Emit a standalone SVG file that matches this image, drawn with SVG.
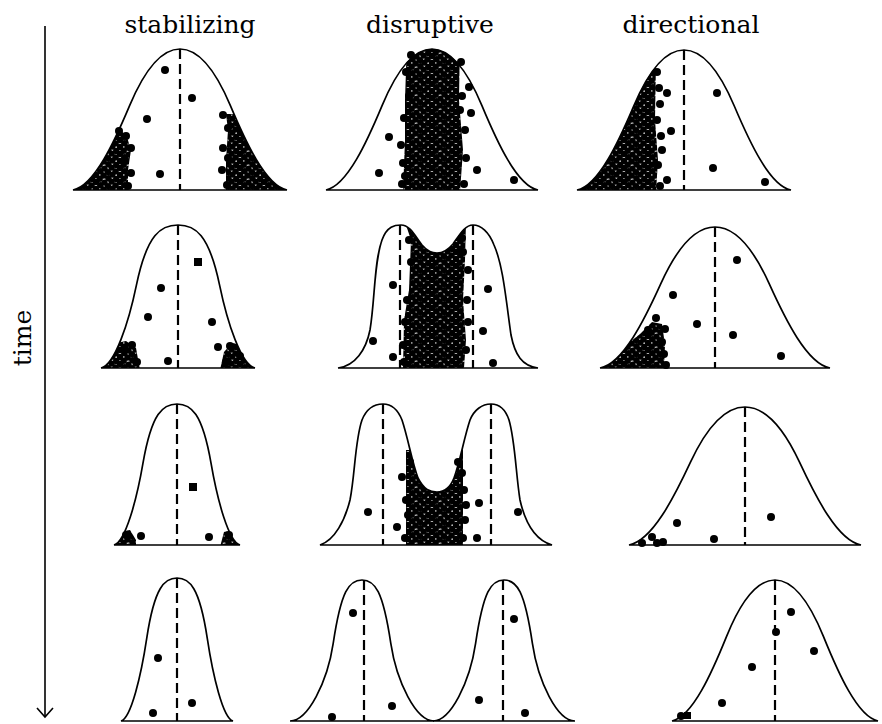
<svg xmlns="http://www.w3.org/2000/svg" xmlns:xlink="http://www.w3.org/1999/xlink" width="882" height="724" viewBox="0 0 882 724">
<style>
.curve{fill:none;stroke:#000;stroke-width:1.7}
.dash{stroke:#000;stroke-width:2.2;stroke-dasharray:10 5;fill:none}
.dot{fill:#000}
.cl{fill:url(#dots)}
text{font-family:"DejaVu Serif","Liberation Serif",serif;font-size:25px;fill:#000}
</style>
<defs>
<pattern id="dots" width="24" height="14" patternUnits="userSpaceOnUse">
<g fill="#000">
<circle cx="0" cy="0" r="3.2"/><circle cx="8.5" cy="0.6" r="3.2"/><circle cx="15.6" cy="-0.4" r="3.2"/><circle cx="24" cy="0" r="3.2"/>
<circle cx="4.3" cy="3.2" r="3.2"/><circle cx="12" cy="4.1" r="3.2"/><circle cx="19.6" cy="3.4" r="3.2"/>
<circle cx="0" cy="7" r="3.2"/><circle cx="7.6" cy="7.5" r="3.2"/><circle cx="16.4" cy="6.6" r="3.2"/><circle cx="24" cy="7" r="3.2"/>
<circle cx="3.7" cy="10.8" r="3.2"/><circle cx="12.4" cy="10.2" r="3.2"/><circle cx="20.2" cy="11" r="3.2"/>
<circle cx="0" cy="14" r="3.2"/><circle cx="8.5" cy="14.6" r="3.2"/><circle cx="15.6" cy="13.6" r="3.2"/><circle cx="24" cy="14" r="3.2"/>
</g>
</pattern>
<path id="bell" vector-effect="non-scaling-stroke" d="M -100,0 C -80,-3 -61,-34.8 -47,-60 C -35,-81.6 -20,-100 0,-100 C 20,-100 35,-81.6 47,-60 C 61,-34.8 80,-3 100,0 Z"/>
<path id="bullet" vector-effect="non-scaling-stroke" d="M -100,0 C -82,-2 -64,-32 -54,-58 C -40,-94 -22,-100 0,-100 C 22,-100 40,-94 54,-58 C 64,-32 82,-2 100,0 Z"/>
<path id="peak" vector-effect="non-scaling-stroke" d="M -100,0 C -75,0 -48,-27.8 -40,-55 C -29,-92.4 -18,-100 0,-100 C 18,-100 29,-92.4 40,-55 C 48,-27.8 75,0 100,0 Z"/>
<path id="bimod2" d="M 338,368 C 355,366 366,350 370,330 C 375,300 374,262 382,240 C 387,226 395,225 401,225 C 410,225 415,236 422,245 C 428,252 432,253 437,253 C 443,253 448,250 453,244 C 460,234 465,225 473,225 C 481,225 489,232 494,245 C 503,265 506,300 511,335 C 515,355 522,366 538,368 Z"/>
<path id="bimod3" d="M 320,545 C 335,540 345,520 350,500 C 355,475 355,440 362,420 C 368,405 378,404 383,404 C 392,404 398,410 402,420 C 408,438 412,462 418,478 C 424,490 430,492 437,492 C 444,492 450,488 454,478 C 460,462 464,438 470,420 C 474,410 482,404 491,404 C 498,404 505,408 509,420 C 515,440 516,475 520,500 C 525,522 535,540 552,545 Z"/>
<clipPath id="cA1"><use xlink:href="#bell" transform="translate(180,190) scale(1.07,1.41)"/></clipPath>
<clipPath id="cB1"><use xlink:href="#bell" transform="translate(432,190) scale(1.06,1.41)"/></clipPath>
<clipPath id="cC1"><use xlink:href="#bell" transform="translate(684,190) scale(1.07,1.40)"/></clipPath>
<clipPath id="cA2"><use xlink:href="#bullet" transform="translate(178,368) scale(0.77,1.43)"/></clipPath>
<clipPath id="cB2"><use xlink:href="#bimod2"/></clipPath>
<clipPath id="cC2"><use xlink:href="#bell" transform="translate(715,368) scale(1.15,1.41)"/></clipPath>
<clipPath id="cA3"><use xlink:href="#bullet" transform="translate(177,545) scale(0.63,1.41)"/></clipPath>
<clipPath id="cB3"><use xlink:href="#bimod3"/></clipPath>
</defs>
<rect width="882" height="724" fill="#fff"/>

<g id="headers">
<text x="190" y="33" text-anchor="middle">stabilizing</text>
<text x="430" y="33" text-anchor="middle">disruptive</text>
<text x="691" y="33" text-anchor="middle">directional</text>
<text transform="translate(31,338) rotate(-90)" text-anchor="middle">time</text>
</g>

<g id="connectors">
<line x1="45" y1="26" x2="45" y2="717" stroke="#000" stroke-width="1.6"/>
<polyline points="37,708 45,717 53,708" fill="none" stroke="#000" stroke-width="1.6"/>
</g>

<g id="stabilizing-1">
<g clip-path="url(#cA1)">
<path class="cl" d="M 60,192 L 60,130 L 118,130 L 126,134 L 131,150 L 128,170 L 128,192 Z"/>
<path class="cl" d="M 226,192 L 226,160 L 228,130 L 226,114 L 300,114 L 300,192 Z"/>
<g class="dot">
<circle cx="100" cy="150" r="4"/><circle cx="92" cy="165" r="4"/><circle cx="83" cy="178" r="4"/><circle cx="112" cy="142" r="4"/>
<circle cx="240" cy="128" r="4"/><circle cx="250" cy="142" r="4"/><circle cx="262" cy="160" r="4"/><circle cx="272" cy="176" r="4"/>
</g>
</g>
<g class="dot">
<circle cx="126" cy="136" r="4"/><circle cx="131" cy="148" r="4"/><circle cx="131" cy="173" r="4"/><circle cx="125" cy="160" r="4"/><circle cx="128" cy="186" r="4"/><circle cx="119" cy="131" r="4"/>
<circle cx="223" cy="115" r="4"/><circle cx="223" cy="148" r="4"/><circle cx="222" cy="170" r="4"/><circle cx="228" cy="128" r="4"/><circle cx="227" cy="185" r="4"/><circle cx="228" cy="158" r="4"/>
<circle cx="165" cy="70" r="4"/><circle cx="192" cy="98" r="4"/><circle cx="147" cy="119" r="4"/><circle cx="160" cy="174" r="4"/>
</g>
<line class="dash" x1="180" y1="49" x2="180" y2="190"/>
<use class="curve" xlink:href="#bell" transform="translate(180,190) scale(1.07,1.41)"/>
</g>

<g id="disruptive-1">
<g clip-path="url(#cB1)">
<path class="cl" d="M 407,40 L 460,40 L 459,100 L 463,150 L 460,192 L 403,192 L 405,140 L 405,100 Z"/>
</g>
<g class="dot">
<circle cx="409" cy="96" r="4"/><circle cx="403" cy="163" r="4"/><circle cx="465" cy="130" r="4"/><circle cx="461" cy="62" r="4"/><circle cx="406" cy="72" r="4"/><circle cx="402" cy="184" r="4"/><circle cx="464" cy="184" r="4"/>
<circle cx="404" cy="118" r="4"/><circle cx="401" cy="145" r="4"/><circle cx="462" cy="96" r="4"/><circle cx="466" cy="158" r="4"/><circle cx="411" cy="55" r="4"/><circle cx="460" cy="110" r="4"/><circle cx="405" cy="176" r="4"/>
<circle cx="389" cy="137" r="4"/><circle cx="379" cy="173" r="4"/><circle cx="469" cy="87" r="4"/><circle cx="471" cy="113" r="4"/><circle cx="477" cy="170" r="4"/><circle cx="514" cy="180" r="4"/>
</g>
<use class="curve" xlink:href="#bell" transform="translate(432,190) scale(1.06,1.41)"/>
</g>

<g id="directional-1">
<g clip-path="url(#cC1)">
<path class="cl" d="M 560,192 L 560,60 L 656,60 L 655,120 L 658,160 L 656,192 Z"/>
</g>
<g class="dot">
<circle cx="657" cy="72" r="4"/><circle cx="659" cy="88" r="4"/><circle cx="660" cy="104" r="4"/><circle cx="657" cy="120" r="4"/><circle cx="661" cy="136" r="4"/><circle cx="662" cy="150" r="4"/><circle cx="658" cy="165" r="4"/><circle cx="660" cy="186" r="4"/>
<circle cx="667" cy="93" r="4"/><circle cx="671" cy="131" r="4"/><circle cx="667" cy="180" r="4"/><circle cx="717" cy="93" r="4"/><circle cx="713" cy="168" r="4"/><circle cx="765" cy="182" r="4"/>
</g>
<line class="dash" x1="684" y1="50" x2="684" y2="190"/>
<use class="curve" xlink:href="#bell" transform="translate(684,190) scale(1.07,1.40)"/>
</g>

<g id="stabilizing-2">
<g clip-path="url(#cA2)">
<path class="cl" d="M 95,370 L 98,352 L 112,344 L 126,341 L 136,348 L 140,370 Z"/>
<path class="cl" d="M 220,370 L 224,352 L 232,343 L 245,345 L 262,370 Z"/>
</g>
<g class="dot">
<rect x="194" y="258" width="8" height="8"/>
<circle cx="161" cy="288" r="4"/><circle cx="148" cy="317" r="4"/><circle cx="212" cy="322" r="4"/><circle cx="168" cy="361" r="4"/><circle cx="218" cy="347" r="4"/><circle cx="132" cy="345" r="4"/>
<circle cx="125" cy="349" r="4"/><circle cx="137" cy="362" r="4"/><circle cx="230" cy="346" r="4"/><circle cx="226" cy="362" r="4"/><circle cx="240" cy="356" r="4"/>
</g>
<line class="dash" x1="178" y1="225" x2="178" y2="368"/>
<use class="curve" xlink:href="#bullet" transform="translate(178,368) scale(0.77,1.43)"/>
</g>

<g id="disruptive-2">
<g clip-path="url(#cB2)">
<path class="cl" d="M 405,222 L 466,222 L 465,260 L 463,300 L 466,340 L 464,368 L 403,368 L 404,320 L 409,290 L 411,240 Z"/>
</g>
<g class="dot">
<circle cx="393" cy="285" r="4"/><circle cx="373" cy="341" r="4"/><circle cx="393" cy="357" r="4"/><circle cx="488" cy="289" r="4"/><circle cx="483" cy="331" r="4"/><circle cx="493" cy="363" r="4"/><circle cx="462" cy="238" r="4"/>
<circle cx="409" cy="240" r="4"/><circle cx="407" cy="300" r="4"/><circle cx="467" cy="300" r="4"/><circle cx="403" cy="345" r="4"/><circle cx="411" cy="262" r="4"/><circle cx="405" cy="322" r="4"/>
<circle cx="468" cy="270" r="4"/><circle cx="468" cy="322" r="4"/><circle cx="466" cy="350" r="4"/><circle cx="404" cy="362" r="4"/><circle cx="463" cy="252" r="4"/>
</g>
<line class="dash" x1="400" y1="225" x2="400" y2="368"/>
<line class="dash" x1="473" y1="225" x2="473" y2="368"/>
<use class="curve" xlink:href="#bimod2"/>
</g>

<g id="directional-2">
<g clip-path="url(#cC2)">
<path class="cl" d="M 595,370 L 640,334 L 652,322 L 662,324 L 665,345 L 664,370 Z"/>
</g>
<g class="dot">
<circle cx="737" cy="260" r="4"/><circle cx="673" cy="295" r="4"/><circle cx="697" cy="324" r="4"/><circle cx="733" cy="335" r="4"/><circle cx="781" cy="356" r="4"/><circle cx="665" cy="329" r="4"/><circle cx="666" cy="365" r="4"/><circle cx="656" cy="318" r="4"/>
<circle cx="662" cy="342" r="4"/><circle cx="664" cy="354" r="4"/><circle cx="648" cy="330" r="4"/>
</g>
<line class="dash" x1="715" y1="227" x2="715" y2="368"/>
<use class="curve" xlink:href="#bell" transform="translate(715,368) scale(1.15,1.41)"/>
</g>

<g id="stabilizing-3">
<g clip-path="url(#cA3)">
<path class="cl" d="M 110,547 L 118,532 L 130,530 L 136,540 L 136,547 Z"/>
<path class="cl" d="M 220,547 L 224,532 L 232,530 L 245,547 Z"/>
</g>
<g class="dot">
<circle cx="141" cy="536" r="4"/><rect x="189" y="483" width="8" height="8"/><circle cx="209" cy="537" r="4"/>
<circle cx="126" cy="535" r="4"/><circle cx="229" cy="535" r="4"/>
</g>
<line class="dash" x1="177" y1="404" x2="177" y2="545"/>
<use class="curve" xlink:href="#bullet" transform="translate(177,545) scale(0.63,1.41)"/>
</g>

<g id="disruptive-3">
<g clip-path="url(#cB3)">
<path class="cl" d="M 406,450 L 463,450 L 463,547 L 406,547 Z"/>
</g>
<g class="dot">
<circle cx="402" cy="477" r="4"/><circle cx="397" cy="527" r="4"/><circle cx="462" cy="473" r="4"/><circle cx="406" cy="500" r="4"/><circle cx="465" cy="520" r="4"/><circle cx="410" cy="462" r="4"/>
<circle cx="408" cy="515" r="4"/><circle cx="405" cy="538" r="4"/><circle cx="464" cy="490" r="4"/><circle cx="466" cy="505" r="4"/><circle cx="463" cy="538" r="4"/><circle cx="458" cy="462" r="4"/>
<circle cx="368" cy="512" r="4"/><circle cx="479" cy="503" r="4"/><circle cx="477" cy="538" r="4"/><circle cx="518" cy="512" r="4"/>
</g>
<line class="dash" x1="383" y1="404" x2="383" y2="545"/>
<line class="dash" x1="491" y1="404" x2="491" y2="545"/>
<use class="curve" xlink:href="#bimod3"/>
</g>

<g id="directional-3">
<g class="dot">
<circle cx="652" cy="537" r="4"/><circle cx="663" cy="542" r="4"/><circle cx="642" cy="543" r="4"/><circle cx="657" cy="543" r="4"/>
<circle cx="677" cy="523" r="4"/><circle cx="714" cy="539" r="4"/><circle cx="771" cy="517" r="4"/>
</g>
<line class="dash" x1="745" y1="407" x2="745" y2="545"/>
<use class="curve" xlink:href="#bell" transform="translate(745,545) scale(1.16,1.38)"/>
</g>

<g id="stabilizing-4">
<g class="dot">
<circle cx="158" cy="658" r="4"/><circle cx="192" cy="703" r="4"/><circle cx="153" cy="713" r="4"/>
</g>
<line class="dash" x1="177" y1="578" x2="177" y2="721"/>
<use class="curve" xlink:href="#bullet" transform="translate(177,721) scale(0.56,1.43)"/>
</g>

<g id="disruptive-4">
<g class="dot">
<circle cx="353" cy="613" r="4"/><circle cx="392" cy="706" r="4"/><circle cx="332" cy="717" r="4"/>
<circle cx="514" cy="619" r="4"/><circle cx="479" cy="700" r="4"/><circle cx="525" cy="713" r="4"/>
</g>
<line class="dash" x1="364" y1="580" x2="364" y2="721"/>
<line class="dash" x1="503" y1="580" x2="503" y2="721"/>
<use class="curve" xlink:href="#peak" transform="translate(362,721) scale(0.72,1.41)"/>
<use class="curve" xlink:href="#peak" transform="translate(504,721) scale(0.71,1.41)"/>
</g>

<g id="directional-4">
<g class="dot">
<circle cx="791" cy="612" r="4"/><circle cx="776" cy="632" r="4"/><circle cx="752" cy="667" r="4"/><circle cx="814" cy="651" r="4"/><circle cx="722" cy="703" r="4"/><circle cx="681" cy="716" r="4"/><rect x="684" y="712" width="7" height="7"/>
</g>
<line class="dash" x1="775" y1="580" x2="775" y2="721"/>
<use class="curve" xlink:href="#bell" transform="translate(775,721) scale(1.03,1.41)"/>
</g>
</svg>
